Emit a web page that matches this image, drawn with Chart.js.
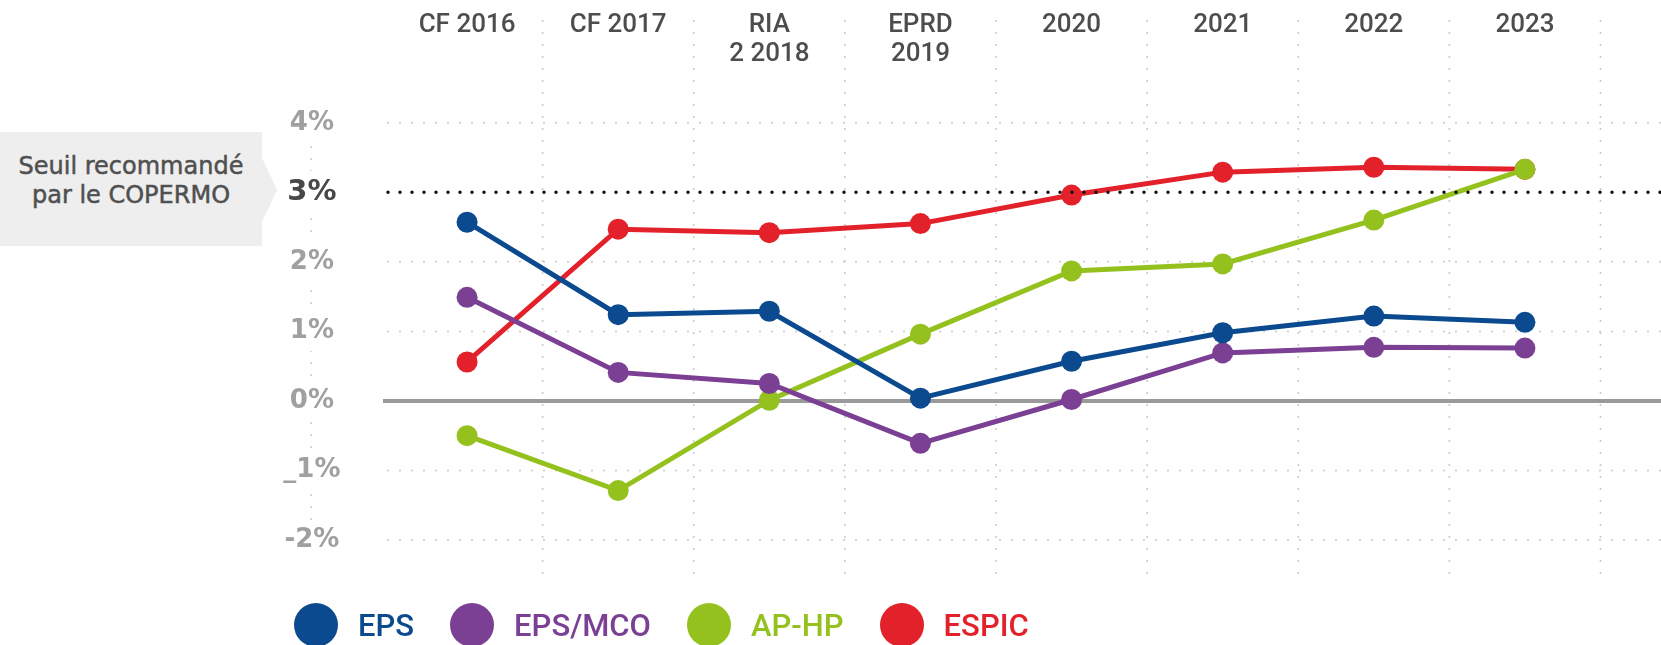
<!DOCTYPE html>
<html lang="fr">
<head>
<meta charset="utf-8">
<title>Marge brute - seuil COPERMO</title>
<script src="https://cdn.jsdelivr.net/npm/chart.js@4.4.1/dist/chart.umd.min.js"></script>
<style>
  html, body { margin: 0; padding: 0; background: #fff; }
  #wrap { position: relative; width: 1661px; height: 645px; overflow: hidden; }
  #myChart { position: absolute; left: 0; top: 0; }
  .seuil {
    position: absolute; left: 0; top: 132px; width: 277px; height: 114px;
    background: #eeeeee;
    clip-path: polygon(0 0, 262px 0, 262px 26px, 277px 58px, 262px 90px, 262px 100%, 0 100%);
    font-family: "DejaVu Sans"; font-size: 24px; line-height: 29px; color: #505050;
    -webkit-text-stroke: 0.5px #505050;
  }
  .seuil div { width: 262px; text-align: center; padding-top: 20px; }
  #legend {
    position: absolute; left: 294px; top: 603px;
    display: flex; align-items: center;
    font-family: Roboto; font-size: 31px; font-weight: 500;
  }
  .legend-item { display: flex; align-items: center; margin-right: 36px; }
  .legend-dot { width: 44px; height: 44px; border-radius: 50%; margin-right: 20px; }
</style>
</head>
<body>
<div id="wrap">
  <canvas id="myChart" width="1661" height="645"></canvas>
  <div class="seuil"><div>Seuil recommandé<br>par le COPERMO</div></div>
  <div id="legend"></div>
</div>
<script>
// ---- données ----
const categories = ['CF 2016', 'CF 2017', ['RIA', '2 2018'], ['EPRD', '2019'], '2020', '2021', '2022', '2023'];

const eps    = [2.57, 1.24, 1.29, 0.04, 0.57, 0.98, 1.22, 1.13];
const epsMco = [1.49, 0.41, 0.25, -0.61, 0.02, 0.69, 0.77, 0.76];
const apHp   = [-0.50, -1.29, 0.01, 0.96, 1.87, 1.97, 2.60, 3.33];
const espic  = [0.56, 2.47, 2.42, 2.55, 2.96, 3.29, 3.36, 3.33];

const seriesNames  = ['EPS', 'EPS/MCO', 'AP-HP', 'ESPIC'];
const seriesColors = ['#0b4a8f', '#7b3f93', '#95c11f', '#e3212a'];

const yTickValues = [-2, -1, 0, 1, 2, 3, 4];
const yTickLabels = ['-2%', '_1%', '0%', '1%', '2%', '3%', '4%'];

const seuil = 3; // seuil recommandé par le COPERMO

// ---- mise en page ----
const AXE_Y_X = 311;      // colonne des libellés en %
const GRILLE_X0 = 388;    // début des lignes horizontales
const GRILLE_Y0 = 21, GRILLE_Y1 = 580;

function dottedLine(ctx, x0, y0, x1, y1) {
    ctx.beginPath();
    ctx.moveTo(x0, y0);
    ctx.lineTo(x1, y1);
    ctx.stroke();
}

const grillePlugin = {
    id: 'grille',
    beforeDraw(chart) {
        const { ctx, width } = chart;
        const xs = chart.scales.x, ys = chart.scales.y;
        const step = xs.getPixelForValue(1) - xs.getPixelForValue(0);
        ctx.save();
        ctx.lineCap = 'round';
        ctx.strokeStyle = '#c8c8c8';
        ctx.lineWidth = 2;
        ctx.setLineDash([0, 12]);
        // séparateurs verticaux entre les exercices
        for (let i = 0; i < categories.length; i++) {
            const px = xs.getPixelForValue(i) + step / 2;
            dottedLine(ctx, px, GRILLE_Y0, px, GRILLE_Y1);
        }
        // axe pointillé derrière les libellés
        dottedLine(ctx, AXE_Y_X, 135, AXE_Y_X, 528);
        // lignes horizontales
        yTickValues.forEach(v => {
            if (v === 0 || v === seuil) return;
            const py = ys.getPixelForValue(v);
            dottedLine(ctx, GRILLE_X0, py, width, py);
        });
        // ligne du zéro
        ctx.setLineDash([]);
        ctx.lineCap = 'butt';
        ctx.strokeStyle = '#9a9a9a';
        ctx.lineWidth = 4;
        const y0 = ys.getPixelForValue(0);
        dottedLine(ctx, 383, y0, width, y0);
        ctx.restore();
    },
    afterDatasetsDraw(chart) {
        const { ctx, width } = chart;
        const py = chart.scales.y.getPixelForValue(seuil);
        ctx.save();
        ctx.lineCap = 'round';
        ctx.strokeStyle = '#111';
        ctx.lineWidth = 3.5;
        ctx.setLineDash([0, 12]);
        dottedLine(ctx, GRILLE_X0, py, width, py);
        ctx.restore();
    }
};

function makeDataset(i, data) {
    const c = seriesColors[i];
    return {
        label: seriesNames[i],
        data: data,
        borderColor: c,
        backgroundColor: c,
        pointBackgroundColor: c,
        borderWidth: 5,
        pointRadius: 10.5,
        pointBorderWidth: 0,
        pointHoverRadius: 10.5,
        tension: 0
    };
}

const isSeuil = c => c.tick && c.tick.value === seuil;

const ctx = document.getElementById('myChart').getContext('2d');
new Chart(ctx, {
    type: 'line',
    data: {
        labels: categories,
        datasets: [
            makeDataset(0, eps),
            makeDataset(1, epsMco),
            makeDataset(2, apHp),
            makeDataset(3, espic)
        ]
    },
    options: {
        responsive: false,
        animation: false,
        devicePixelRatio: 1,
        layout: { padding: { left: 0, top: 0, right: 60.5, bottom: 70.25 } },
        plugins: {
            legend: { display: false },
            tooltip: { enabled: false }
        },
        scales: {
            x: {
                type: 'category',
                position: 'top',
                offset: true,
                grid: { display: false, drawTicks: false },
                border: { display: false },
                ticks: {
                    font: { family: 'Roboto', size: 26, weight: '500', lineHeight: 1.12 },
                    color: '#4d4d4d',
                    padding: 19,
                    crossAlign: 'far',
                    maxRotation: 0,
                    autoSkip: false
                },
                afterFit(scale) { scale.height = 88; }
            },
            y: {
                min: -2.5,
                max: 4.5,
                grid: { display: false, drawTicks: false },
                border: { display: false },
                // ticks fixes : un par point de pourcentage
                afterBuildTicks(scale) {
                    scale.ticks = yTickValues.map(v => ({ value: v }));
                },
                ticks: {
                    callback: v => yTickLabels[yTickValues.indexOf(v)],
                    font: c => isSeuil(c)
                        ? { family: 'DejaVu Sans', size: 29, weight: 'bold' }
                        : { family: 'DejaVu Sans', size: 26, weight: 'bold' },
                    color: c => isSeuil(c) ? '#484848' : '#a0a0a0',
                    crossAlign: 'center',
                    padding: 51,
                    showLabelBackdrop: true,
                    backdropColor: '#ffffff',
                    backdropPadding: 4
                },
                afterFit(scale) { scale.width = 391.5; }
            }
        }
    },
    plugins: [grillePlugin]
});

// légende
const legend = document.getElementById('legend');
seriesNames.forEach((name, i) => {
    const item = document.createElement('div');
    item.className = 'legend-item';
    item.innerHTML = `<span class="legend-dot" style="background:${seriesColors[i]}"></span><span style="color:${seriesColors[i]}">${name}</span>`;
    legend.appendChild(item);
});
</script>
</body>
</html>
